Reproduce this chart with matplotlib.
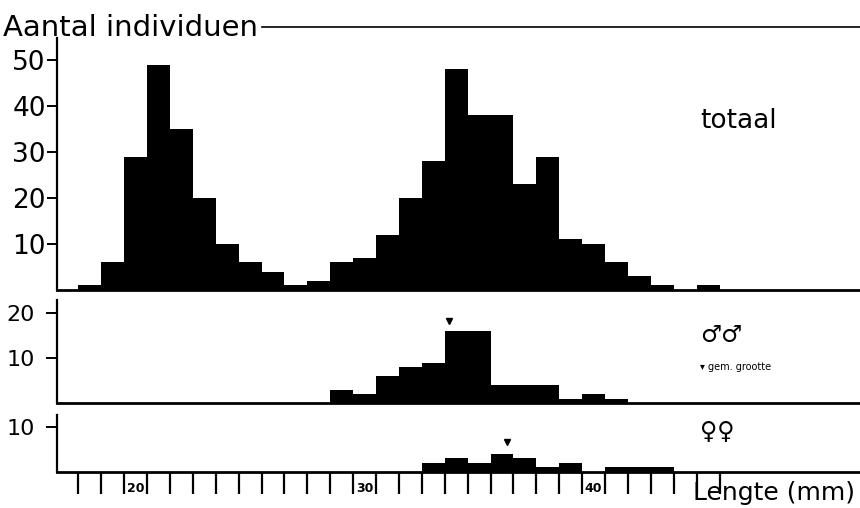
import numpy as np
import matplotlib.pyplot as plt
from matplotlib.lines import Line2D
from matplotlib.transforms import blended_transform_factory

# lengte-klassen (mm), linkergrens van elke klasse
klassen = list(range(18, 47))
totaal = [1, 6, 29, 49, 35, 20, 10, 6, 4, 1, 2, 6, 7, 12, 20, 28,
          48, 38, 38, 23, 29, 11, 10, 6, 3, 1, 0, 1, 0]
mannen = [0, 0, 0, 0, 0, 0, 0, 0, 0, 0, 0, 3, 2, 6, 8, 9,
          16, 16, 4, 4, 4, 1, 2, 1, 0, 0, 0, 0, 0]
vrouwen = [0, 0, 0, 0, 0, 0, 0, 0, 0, 0, 0, 0, 0, 0, 0, 2,
           3, 2, 4, 3, 1, 2, 0, 1, 1, 1, 0, 0, 0]
gem_man = 34.2
gem_vrouw = 36.7
x_labels = [20, 30, 40]

W, H = 860, 508
fig = plt.figure(figsize=(W / 100, H / 100), dpi=100)
plt.rcParams['font.family'] = 'DejaVu Sans'

def rect(x0, y_top, x1, y_bot):
    return [x0 / W, 1 - y_bot / H, (x1 - x0) / W, (y_bot - y_top) / H]

xlim = (17.07, 52.13)

ax1 = fig.add_axes(rect(57, 38, 860, 290))
ax2 = fig.add_axes(rect(57, 300, 860, 403))
ax3 = fig.add_axes(rect(57, 415, 860, 471.5))

for ax, data, ytop in [(ax1, totaal, 54.8), (ax2, mannen, 22.9), (ax3, vrouwen, 12.56)]:
    ax.bar(klassen, data, width=1, align='edge', color='black', linewidth=0)
    ax.set_xlim(*xlim)
    ax.set_ylim(0, ytop)
    for s in ['top', 'right']:
        ax.spines[s].set_visible(False)
    ax.spines['left'].set_linewidth(1.6)
    ax.spines['bottom'].set_linewidth(2)
    ax.set_xticks([])

ax1.set_yticks([10, 20, 30, 40, 50])
ax1.tick_params(axis='y', length=7, width=1.4, pad=1, labelsize=19)
ax2.set_yticks([10, 20])
ax2.tick_params(axis='y', length=8, width=1.4, pad=8, labelsize=16)
ax3.set_yticks([10])
ax3.tick_params(axis='y', length=8, width=1.4, pad=8, labelsize=16)

# x-as onderaan: streepjes per mm
ax3.set_xticks(klassen)
ax3.set_xticklabels([])
ax3.tick_params(axis='x', direction='out', length=16, width=1.6, pad=0)
tr = blended_transform_factory(ax3.transData, fig.transFigure)
for v in x_labels:
    ax3.text(v + 0.5, 1 - 489 / H, str(v), transform=tr, ha='center', va='center',
             fontsize=9, fontweight='bold')

# gemiddelde grootte
ax2.plot(gem_man, 18.3, marker='v', color='black', markersize=5)
ax3.plot(gem_vrouw, 6.6, marker='v', color='black', markersize=5)

fig.text(3 / W, 1 - 36 / H, 'Aantal individuen', fontsize=21, va='baseline')
fig.add_artist(Line2D([262 / W, 1], [1 - 27 / H, 1 - 27 / H], color='black', linewidth=1.2))
fig.text(700 / W, 1 - 128 / H, 'totaal', fontsize=19, va='baseline')
fig.text(700 / W, 1 - 335 / H, '♂♂', fontsize=17, va='center')
fig.text(700 / W, 1 - 367 / H, '▾ gem. grootte', fontsize=7, va='center')
fig.text(700 / W, 1 - 432 / H, '♀♀', fontsize=17, va='center')
fig.text(693 / W, 1 - 500 / H, 'Lengte (mm)', fontsize=18, va='baseline')

plt.savefig('out.png', dpi=100)
